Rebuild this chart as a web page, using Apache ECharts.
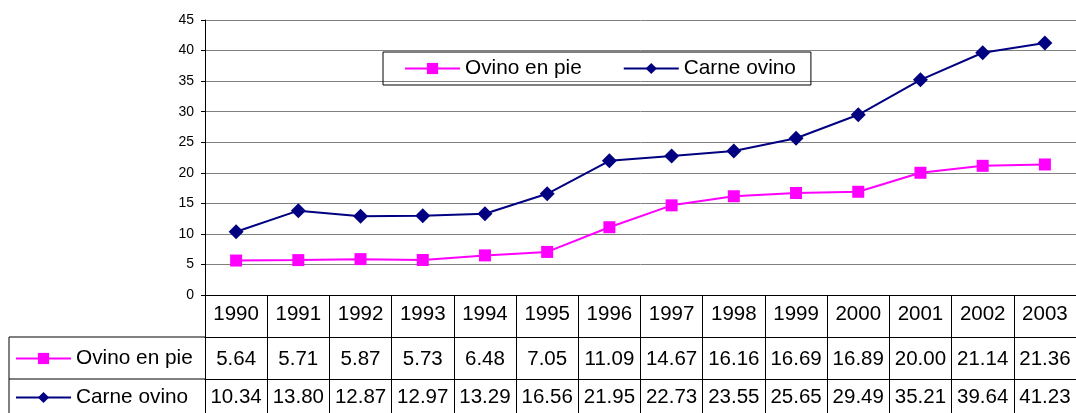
<!DOCTYPE html>
<html>
<head>
<meta charset="utf-8">
<script src="https://cdn.jsdelivr.net/npm/echarts@6/dist/echarts.min.js"></script>
<style>
  html, body { margin: 0; padding: 0; background: #fff; }
  #chart-container { width: 1076px; height: 413px; }
</style>
</head>
<body>
<div id="chart-container"></div>
<script>
const years = ["1990", "1991", "1992", "1993", "1994", "1995", "1996", "1997", "1998", "1999", "2000", "2001", "2002", "2003"];
const ovinoEnPie = [5.64, 5.71, 5.87, 5.73, 6.48, 7.05, 11.09, 14.67, 16.16, 16.69, 16.89, 20.0, 21.14, 21.36];
const carneOvino = [10.34, 13.8, 12.87, 12.97, 13.29, 16.56, 21.95, 22.73, 23.55, 25.65, 29.49, 35.21, 39.64, 41.23];

(() => {
  var dom = document.getElementById("chart-container");
  var chart = echarts.init(dom, null, { renderer: "canvas" });

  const font = "'Liberation Sans', Arial, sans-serif";
  const rowH = 42;

  // the data table under the plot: one category axis per row
  const tableAxis = (data, offset, margin) => ({
    type: "category",
    position: "bottom",
    offset: offset,
    data: data,
    boundaryGap: true,
    axisLine: { show: true, lineStyle: { color: "#000", width: 1 } },
    axisTick: { show: true, interval: 0, length: rowH, lineStyle: { color: "#000", width: 1 } },
    axisLabel: {
      interval: 0,
      margin: margin,
      verticalAlign: "middle",
      color: "#000",
      fontFamily: font,
      fontSize: 20.5,
    },
    splitLine: { show: false },
  });

  const legendText = { color: "#000", fontFamily: font, fontSize: 20.8 };

  const option = {
    animation: false,
    backgroundColor: "#fff",
    grid: { left: 205, right: 0, top: 20, bottom: 118, containLabel: false },
    legend: [
      {
        data: ["Ovino en pie", "Carne ovino"],
        left: 383,
        top: 52,
        padding: [6, 15, 6, 21],
        itemWidth: 55,
        itemHeight: 14,
        itemGap: 41,
        borderColor: "#000",
        borderWidth: 1,
        textStyle: legendText,
      },
      {
        data: ["Ovino en pie"],
        left: 15,
        top: 348,
        padding: 0,
        itemWidth: 55,
        itemHeight: 14,
        textStyle: legendText,
      },
      {
        data: ["Carne ovino"],
        left: 15,
        top: 387,
        padding: 0,
        itemWidth: 55,
        itemHeight: 14,
        textStyle: legendText,
      },
    ],
    xAxis: [
      tableAxis(years, 0, 19.5),
      tableAxis(ovinoEnPie.map((v) => v.toFixed(2)), rowH, 22),
      tableAxis(carneOvino.map((v) => v.toFixed(2)), rowH * 2, 18.5),
    ],
    yAxis: {
      type: "value",
      min: 0,
      max: 45,
      interval: 5,
      axisLine: { show: true, lineStyle: { color: "#000" } },
      axisTick: { show: true, length: 4, lineStyle: { color: "#000" } },
      axisLabel: { color: "#000", fontFamily: font, fontSize: 14, margin: 11 },
      splitLine: { lineStyle: { color: "#808080", width: 1 } },
    },
    graphic: [
      { type: "line", shape: { x1: 9, y1: 337, x2: 205, y2: 337 }, style: { stroke: "#000", lineWidth: 1 } },
      { type: "line", shape: { x1: 9, y1: 379, x2: 205, y2: 379 }, style: { stroke: "#000", lineWidth: 1 } },
      { type: "line", shape: { x1: 9, y1: 337, x2: 9, y2: 413 }, style: { stroke: "#000", lineWidth: 1 } },
    ],
    series: [
      {
        name: "Ovino en pie",
        type: "line",
        xAxisIndex: 0,
        data: ovinoEnPie,
        color: "#ff00ff",
        symbol: "rect",
        symbolSize: 12,
        lineStyle: { width: 2 },
        itemStyle: { color: "#ff00ff" },
      },
      {
        name: "Carne ovino",
        type: "line",
        xAxisIndex: 0,
        data: carneOvino,
        color: "#000080",
        symbol: "diamond",
        symbolSize: 15,
        lineStyle: { width: 2 },
        itemStyle: { color: "#000080" },
      },
    ],
  };

  chart.setOption(option);
  window.addEventListener("resize", chart.resize);
})();
</script>
</body>
</html>
